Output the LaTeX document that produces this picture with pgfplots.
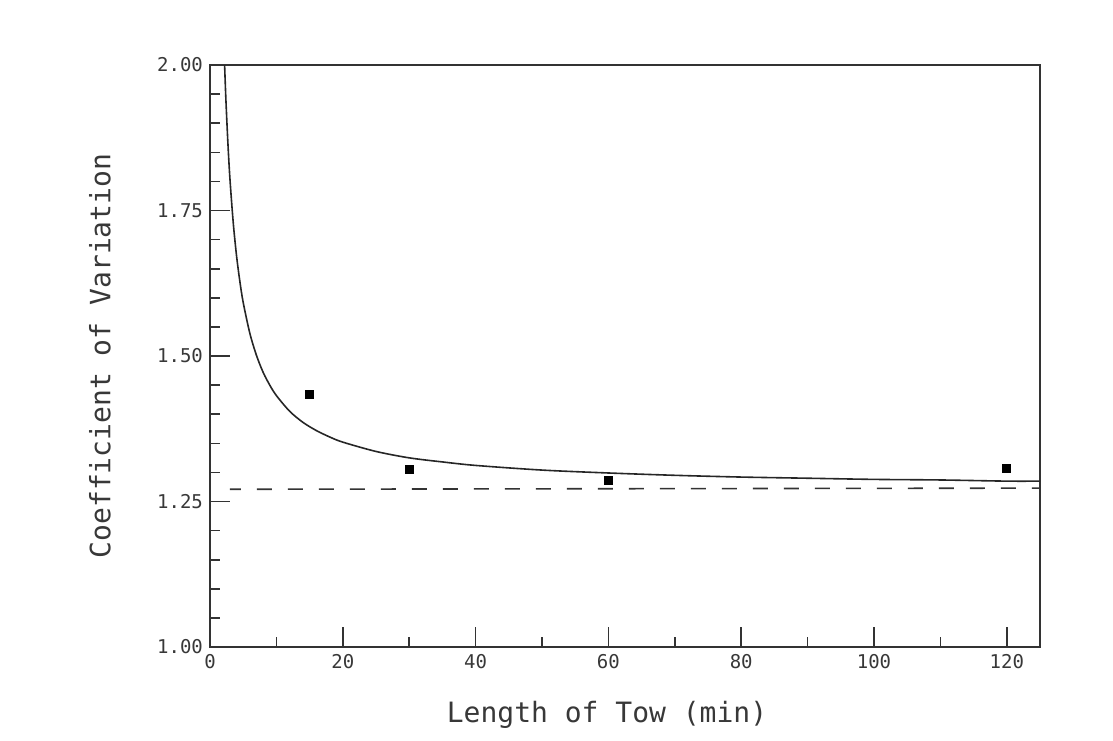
\documentclass[border=0pt]{standalone}
\usepackage{fontspec}
\setmainfont{DejaVu Sans Mono}
\usepackage{pgfplots}
\pgfplotsset{compat=1.18}
\definecolor{ink}{gray}{0.22}
\begin{document}
\begin{tikzpicture}
\useasboundingbox (-105pt,-46.5pt) rectangle (451.5pt,323.5pt);
\begin{axis}[
  at={(0,0)}, anchor=south west,
  scale only axis, width=415pt, height=291pt,
  xmin=0, xmax=125, ymin=1, ymax=2,
  xtick={0,20,...,120}, minor xtick={10,30,...,110},
  ytick={1,1.25,1.5,1.75,2}, minor ytick={1.05,1.1,1.15,1.2,1.3,1.35,1.4,1.45,1.55,1.6,1.65,1.7,1.8,1.85,1.9,1.95},
  yticklabel style={/pgf/number format/.cd,fixed,fixed zerofill,precision=2},
  /pgf/number format/assume math mode=true,
  xtick pos=bottom, ytick pos=left,
  tick align=inside,
  major tick length=10pt, minor tick length=5pt,
  every tick/.style={black!80, line width=0.8pt},
  axis line style={black!80, line width=0.8pt},
  tick label style={font=\fontsize{9.5}{10}\selectfont, text=ink},
  label style={font=\fontsize{14}{16}\selectfont, text=ink},
  xlabel={Length of Tow (min)},
  ylabel={Coefficient of Variation},
  xlabel style={at={(axis description cs:0.5,0)}, anchor=center, yshift=-34pt, xshift=-9pt},
  ylabel style={at={(axis description cs:0,0.5)}, anchor=center, rotate=0, yshift=55pt},
  clip=true,
]
\addplot[black!85, line width=0.8pt, smooth, no markers] coordinates {
(2.2,2.000) (2.4,1.939) (2.7,1.865) (3.0,1.805) (3.5,1.729) (4.0,1.672)
(4.5,1.628) (5.0,1.592) (6.0,1.539) (7.0,1.501) (8.0,1.472) (9.0,1.450)
(10,1.432) (12,1.405) (14,1.386) (16,1.372) (18,1.361) (20,1.352)
(25,1.336) (30,1.325) (35,1.318) (40,1.312) (50,1.304) (60,1.299)
(70,1.295) (80,1.292) (90,1.290) (100,1.288) (110,1.287) (120,1.285)
(125,1.285)
};
\addplot[black!80, line width=0.8pt, dash pattern=on 7.5pt off 8pt, dash phase=2pt, no markers] coordinates {
(3,1.271) (125,1.273)
};
\addplot[only marks, mark=square*, mark size=2pt, black] coordinates {
(15,1.434) (30,1.305) (60,1.286) (120,1.307)
};
\end{axis}
\end{tikzpicture}
\end{document}
